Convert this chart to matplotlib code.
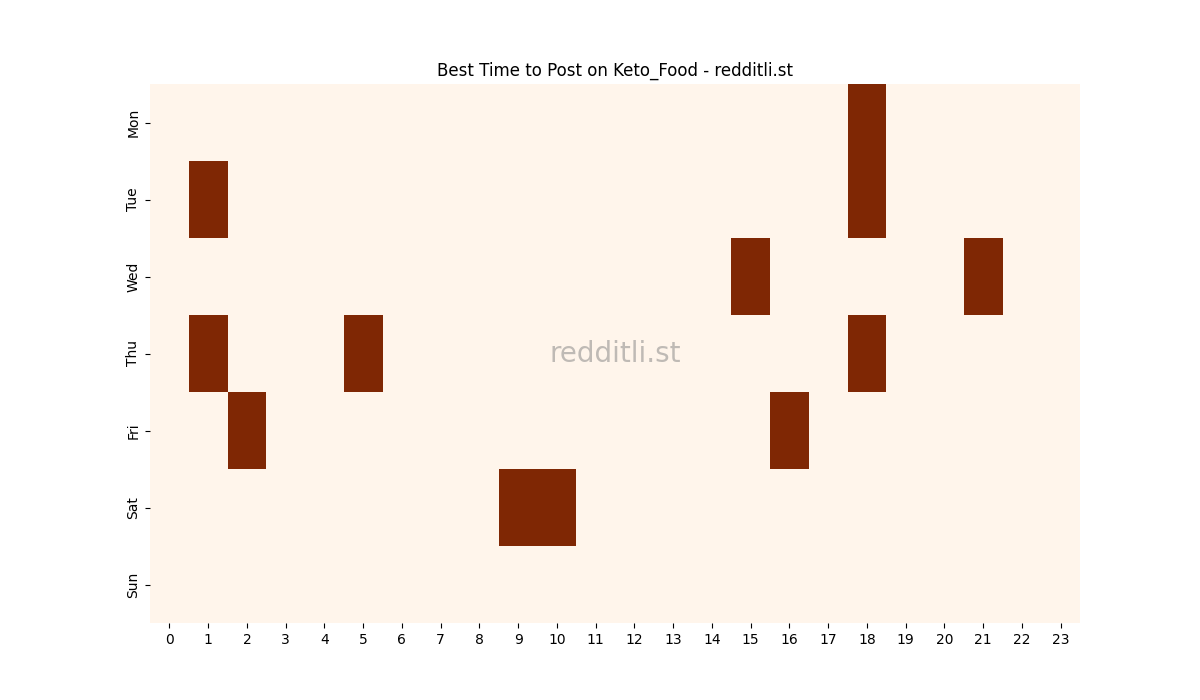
import numpy as np
import matplotlib
matplotlib.use("Agg")
import matplotlib.pyplot as plt
import seaborn as sns

days = ["Mon", "Tue", "Wed", "Thu", "Fri", "Sat", "Sun"]
hours = list(range(24))

# best hours per day (1 = best time)
best_hours = {
    "Mon": [18],
    "Tue": [1, 18],
    "Wed": [15, 21],
    "Thu": [1, 5, 18],
    "Fri": [2, 16],
    "Sat": [9, 10],
    "Sun": [],
}

grid = np.zeros((len(days), len(hours)))
for i, d in enumerate(days):
    for h in best_hours[d]:
        grid[i, h] = 1

fig, ax = plt.subplots(figsize=(12, 7), dpi=100)
sns.heatmap(grid, cmap="Oranges", cbar=False, xticklabels=hours,
            yticklabels=days, ax=ax)
ax.set_title("Best Time to Post on Keto_Food - redditli.st")
plt.setp(ax.get_xticklabels(), rotation=0)
plt.setp(ax.get_yticklabels(), rotation=90, va="center")
ax.text(0.5, 0.5, "redditli.st", transform=ax.transAxes, ha="center",
        va="center", fontsize=20, color="gray", alpha=0.5)

plt.savefig("out.png")
